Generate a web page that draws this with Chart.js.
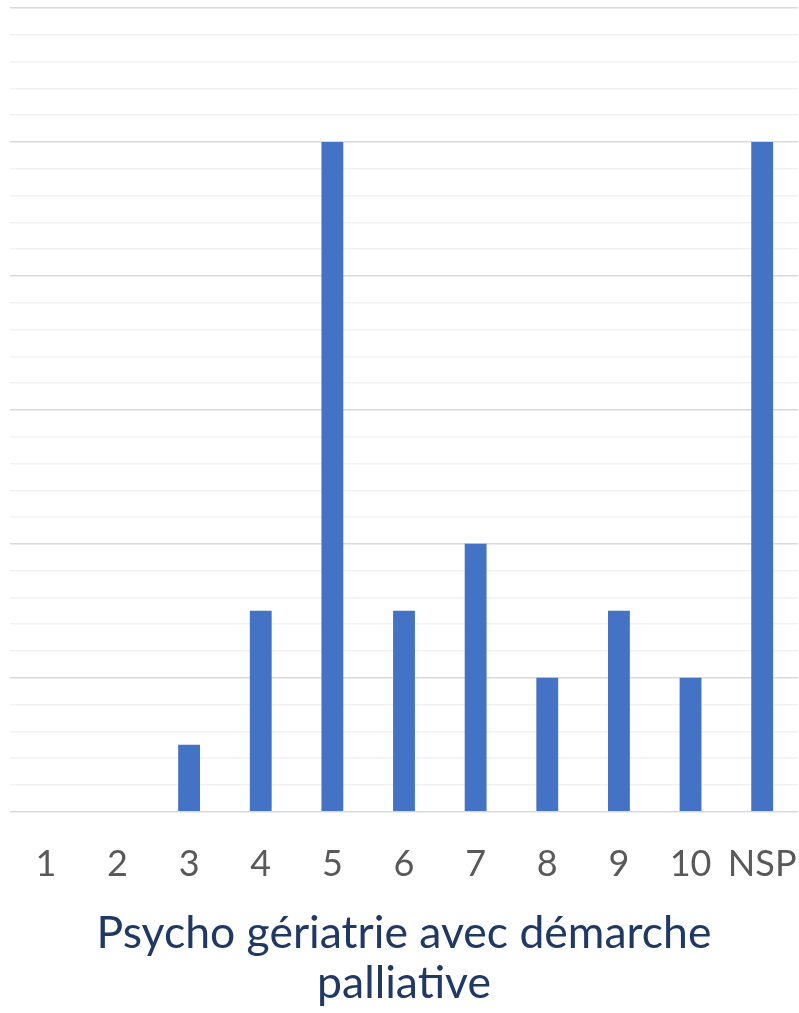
<!DOCTYPE html>
<html>
<head>
<meta charset="utf-8">
<script src="https://cdn.jsdelivr.net/npm/chart.js@4"></script>
<style>
  html, body { margin: 0; padding: 0; background: #fff; }
  #wrap { width: 799px; height: 1013px; }
</style>
</head>
<body>
<div id="wrap"><canvas id="chart"></canvas></div>
<script>
// data
let categories = ['1', '2', '3', '4', '5', '6', '7', '8', '9', '10', 'NSP'];
let counts = [0, 0, 1, 3, 10, 3, 4, 2, 3, 2, 10];
let axisTitle = ['Psycho gériatrie avec démarche', 'palliative'];

let majorStep = 2;
let minorStep = 0.4;
let yMax = 12;

function isMajor(v) {
    let r = v / majorStep;
    return Math.abs(r - Math.round(r)) < 1e-6;
}

let ctx = document.getElementById('chart').getContext('2d');

new Chart(ctx, {
    type: 'bar',
    data: {
        labels: categories,
        datasets: [{
            data: counts,
            backgroundColor: '#4472c4',
            borderWidth: 0,
            categoryPercentage: 1,
            barPercentage: 0.305
        }]
    },
    options: {
        responsive: true,
        maintainAspectRatio: false,
        animation: false,
        layout: { padding: { left: 10, right: 1, top: 8, bottom: 4 } },
        plugins: {
            legend: { display: false },
            tooltip: { enabled: false }
        },
        scales: {
            x: {
                // grid hidden, but tickLength still makes the gap under the plot
                grid: { display: false, drawTicks: true, tickLength: 31 },
                border: { display: false },
                ticks: {
                    color: '#595959',
                    font: { family: 'Lato', size: 36 },
                    padding: 0,
                    maxRotation: 0,
                    autoSkip: false
                },
                title: {
                    display: true,
                    text: axisTitle,
                    color: '#1f3864',
                    font: { family: 'Lato', size: 44.5, lineHeight: 50 / 44.5 },
                    padding: { top: 23, bottom: 0 }
                }
            },
            y: {
                min: 0,
                max: yMax,
                ticks: { display: false, stepSize: minorStep },
                border: { display: false },
                grid: {
                    drawTicks: false,
                    color: c => isMajor(c.tick.value) ? '#d9d9d9' : '#f2f2f2',
                    lineWidth: 1.5
                }
            }
        }
    }
});
</script>
</body>
</html>
